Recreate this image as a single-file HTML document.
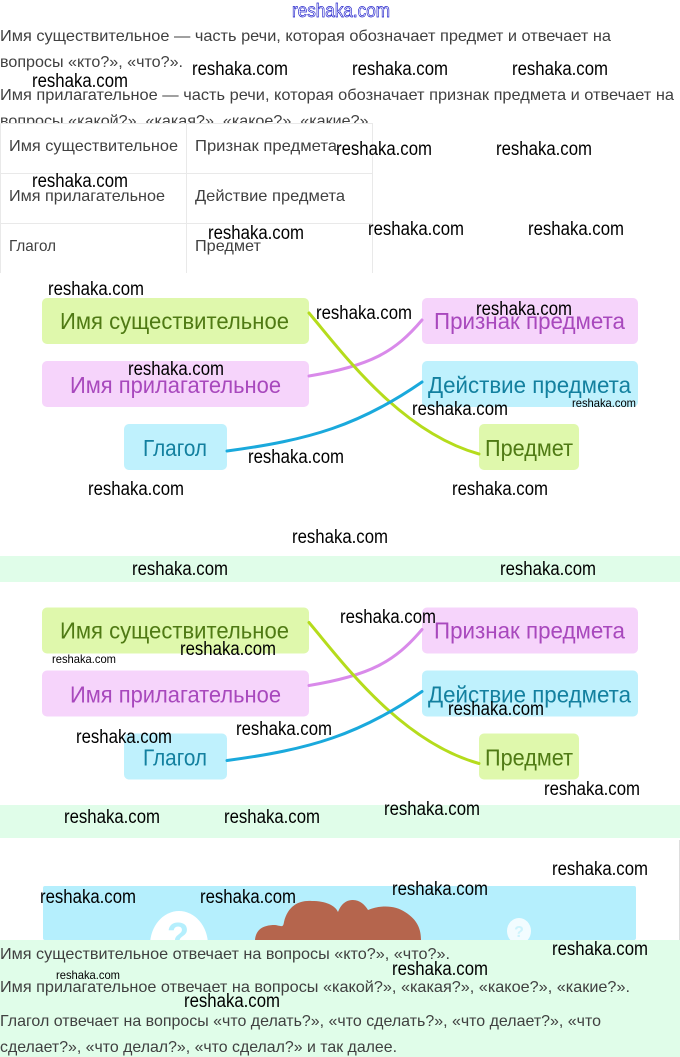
<!DOCTYPE html>
<html lang="ru"><head><meta charset="utf-8"><title>reshaka.com</title>
<style>
html,body{margin:0;padding:0;background:#fff;width:680px;height:1057px;overflow:hidden}
svg{display:block}
text{font-family:"Liberation Sans",sans-serif}
.t{font-size:16px;fill:#404040}
.w{font-size:19px;fill:#000}
.s{font-size:12px;fill:#000}
.d{font-size:23px}
.g{fill:#4f7a14}.p{fill:#a848bd}.b{fill:#13809f}
.cg{fill:#dff8ac}.cp{fill:#f6d4fb}.cb{fill:#bff1fd}
.l{fill:none;stroke-width:3;stroke-linecap:round}
</style></head><body>
<svg xmlns="http://www.w3.org/2000/svg" width="680" height="1057" viewBox="0 0 680 1057">
<rect width="680" height="1057" fill="#fff"/>
<text x="292" y="17" font-size="19" textLength="98" lengthAdjust="spacingAndGlyphs" style="fill:#fff;stroke:#2222cc;stroke-width:.7">reshaka.com</text>

<text class="t" x="0" y="41" textLength="611" lengthAdjust="spacingAndGlyphs">Имя существительное — часть речи, которая обозначает предмет и отвечает на</text>
<text class="t" x="0" y="67" textLength="183" lengthAdjust="spacingAndGlyphs">вопросы «кто?», «что?».</text>
<text class="t" x="0" y="100" textLength="674" lengthAdjust="spacingAndGlyphs">Имя прилагательное — часть речи, которая обозначает признак предмета и отвечает на</text>
<text class="t" x="0" y="126" textLength="373" lengthAdjust="spacingAndGlyphs">вопросы «какой?», «какая?», «какое?», «какие?».</text>
<rect x="0" y="123" width="680" height="10" fill="#fff"/>

<g stroke="#e9e9e9" stroke-width="1" fill="none">
<path d="M0.5 123.5H372.5V273M0.5 123.5V273M186.5 123.5V273M0 173.5H373M0 223.5H373"/>
</g>
<text class="t" x="9" y="151" textLength="169" lengthAdjust="spacingAndGlyphs">Имя существительное</text>
<text class="t" x="195" y="151" textLength="142" lengthAdjust="spacingAndGlyphs">Признак предмета</text>
<text class="t" x="9" y="201" textLength="156" lengthAdjust="spacingAndGlyphs">Имя прилагательное</text>
<text class="t" x="195" y="201" textLength="150" lengthAdjust="spacingAndGlyphs">Действие предмета</text>
<text class="t" x="9" y="251" textLength="47" lengthAdjust="spacingAndGlyphs">Глагол</text>
<text class="t" x="195" y="251" textLength="66" lengthAdjust="spacingAndGlyphs">Предмет</text>

<g id="d1">
<rect class="cg" x="42" y="298" width="267" height="46" rx="5"/>
<rect class="cp" x="42" y="361" width="267" height="46" rx="5"/>
<rect class="cb" x="124" y="424" width="103" height="46" rx="5"/>
<rect class="cp" x="422" y="298" width="216" height="46" rx="5"/>
<rect class="cb" x="422" y="361" width="216" height="46" rx="5"/>
<rect class="cg" x="479" y="424" width="100" height="46" rx="5"/>
<path class="l" stroke="#d98aea" d="M309 376C370 366 395 352 422 320"/>
<path class="l" stroke="#b5dc1c" d="M309 313C342 352 400 432 479 454"/>
<path class="l" stroke="#1aa9dc" d="M227 451C310 440 360 425 422 382"/>
<text class="d g" x="60" y="329" textLength="229" lengthAdjust="spacingAndGlyphs">Имя существительное</text>
<text class="d p" x="70" y="393" textLength="211" lengthAdjust="spacingAndGlyphs">Имя прилагательное</text>
<text class="d b" x="143" y="456" textLength="64" lengthAdjust="spacingAndGlyphs">Глагол</text>
<text class="d p" x="434" y="329" textLength="191" lengthAdjust="spacingAndGlyphs">Признак предмета</text>
<text class="d b" x="428" y="393" textLength="203" lengthAdjust="spacingAndGlyphs">Действие предмета</text>
<text class="d g" x="485" y="456" textLength="88" lengthAdjust="spacingAndGlyphs">Предмет</text>
</g>

<rect x="0" y="556" width="680" height="26" fill="#e0fde9"/>

<g transform="translate(0,309.5)">
<rect class="cg" x="42" y="298" width="267" height="46" rx="5"/>
<rect class="cp" x="42" y="361" width="267" height="46" rx="5"/>
<rect class="cb" x="124" y="424" width="103" height="46" rx="5"/>
<rect class="cp" x="422" y="298" width="216" height="46" rx="5"/>
<rect class="cb" x="422" y="361" width="216" height="46" rx="5"/>
<rect class="cg" x="479" y="424" width="100" height="46" rx="5"/>
<path class="l" stroke="#d98aea" d="M309 376C370 366 395 352 422 320"/>
<path class="l" stroke="#b5dc1c" d="M309 313C342 352 400 432 479 454"/>
<path class="l" stroke="#1aa9dc" d="M227 451C310 440 360 425 422 382"/>
<text class="d g" x="60" y="329" textLength="229" lengthAdjust="spacingAndGlyphs">Имя существительное</text>
<text class="d p" x="70" y="393" textLength="211" lengthAdjust="spacingAndGlyphs">Имя прилагательное</text>
<text class="d b" x="143" y="456" textLength="64" lengthAdjust="spacingAndGlyphs">Глагол</text>
<text class="d p" x="434" y="329" textLength="191" lengthAdjust="spacingAndGlyphs">Признак предмета</text>
<text class="d b" x="428" y="393" textLength="203" lengthAdjust="spacingAndGlyphs">Действие предмета</text>
<text class="d g" x="485" y="456" textLength="88" lengthAdjust="spacingAndGlyphs">Предмет</text>
</g>

<rect x="0" y="805" width="680" height="33" fill="#e0fde9"/>

<rect x="43" y="886" width="593" height="54" rx="2" fill="#b5effd"/>
<ellipse cx="179" cy="945" rx="29" ry="34" fill="#fff"/>
<text x="178" y="948" font-size="36" font-weight="bold" text-anchor="middle" style="fill:#b5effd">?</text>
<ellipse cx="519" cy="931" rx="12" ry="13" fill="#f2fcff"/>
<text x="519" y="937" font-size="16" font-weight="bold" text-anchor="middle" style="fill:#cdf3fc">?</text>
<path fill="#b5654d" d="M255 940C256 930 262 925 275 925C282 926 283 928 284 922C288 905 300 900 312 901C325 901 335 905 338 912C342 902 348 900 353 900C360 900 365 905 368 910C380 905 395 905 405 912C418 920 421 930 421 940Z"/>
<rect x="679" y="840" width="1" height="100" fill="#ddd"/>

<rect x="0" y="940" width="680" height="117" fill="#e0fde9"/>
<text class="t" x="0" y="959" textLength="450" lengthAdjust="spacingAndGlyphs">Имя существительное отвечает на вопросы «кто?», «что?».</text>
<text class="t" x="0" y="992" textLength="630" lengthAdjust="spacingAndGlyphs">Имя прилагательное отвечает на вопросы «какой?», «какая?», «какое?», «какие?».</text>
<text class="t" x="0" y="1026" textLength="601" lengthAdjust="spacingAndGlyphs">Глагол отвечает на вопросы «что делать?», «что сделать?», «что делает?», «что</text>
<text class="t" x="0" y="1052" textLength="397" lengthAdjust="spacingAndGlyphs">сделает?», «что делал?», «что сделал?» и так далее.</text>

<g>
<text class="w" x="192" y="75" textLength="96" lengthAdjust="spacingAndGlyphs">reshaka.com</text>
<text class="w" x="352" y="75" textLength="96" lengthAdjust="spacingAndGlyphs">reshaka.com</text>
<text class="w" x="512" y="75" textLength="96" lengthAdjust="spacingAndGlyphs">reshaka.com</text>
<text class="w" x="32" y="87" textLength="96" lengthAdjust="spacingAndGlyphs">reshaka.com</text>
<text class="w" x="336" y="155" textLength="96" lengthAdjust="spacingAndGlyphs">reshaka.com</text>
<text class="w" x="496" y="155" textLength="96" lengthAdjust="spacingAndGlyphs">reshaka.com</text>
<text class="w" x="32" y="187" textLength="96" lengthAdjust="spacingAndGlyphs">reshaka.com</text>
<text class="w" x="208" y="239" textLength="96" lengthAdjust="spacingAndGlyphs">reshaka.com</text>
<text class="w" x="368" y="235" textLength="96" lengthAdjust="spacingAndGlyphs">reshaka.com</text>
<text class="w" x="528" y="235" textLength="96" lengthAdjust="spacingAndGlyphs">reshaka.com</text>
<text class="w" x="48" y="295" textLength="96" lengthAdjust="spacingAndGlyphs">reshaka.com</text>
<text class="w" x="316" y="319" textLength="96" lengthAdjust="spacingAndGlyphs">reshaka.com</text>
<text class="w" x="476" y="315" textLength="96" lengthAdjust="spacingAndGlyphs">reshaka.com</text>
<text class="w" x="128" y="375" textLength="96" lengthAdjust="spacingAndGlyphs">reshaka.com</text>
<text class="w" x="412" y="415" textLength="96" lengthAdjust="spacingAndGlyphs">reshaka.com</text>
<text class="s" x="572" y="407" textLength="64" lengthAdjust="spacingAndGlyphs">reshaka.com</text>
<text class="w" x="248" y="463" textLength="96" lengthAdjust="spacingAndGlyphs">reshaka.com</text>
<text class="w" x="88" y="495" textLength="96" lengthAdjust="spacingAndGlyphs">reshaka.com</text>
<text class="w" x="452" y="495" textLength="96" lengthAdjust="spacingAndGlyphs">reshaka.com</text>
<text class="w" x="292" y="543" textLength="96" lengthAdjust="spacingAndGlyphs">reshaka.com</text>
<text class="w" x="132" y="575" textLength="96" lengthAdjust="spacingAndGlyphs">reshaka.com</text>
<text class="w" x="500" y="575" textLength="96" lengthAdjust="spacingAndGlyphs">reshaka.com</text>
<text class="w" x="340" y="623" textLength="96" lengthAdjust="spacingAndGlyphs">reshaka.com</text>
<text class="w" x="180" y="655" textLength="96" lengthAdjust="spacingAndGlyphs">reshaka.com</text>
<text class="s" x="52" y="663" textLength="64" lengthAdjust="spacingAndGlyphs">reshaka.com</text>
<text class="w" x="236" y="735" textLength="96" lengthAdjust="spacingAndGlyphs">reshaka.com</text>
<text class="w" x="76" y="743" textLength="96" lengthAdjust="spacingAndGlyphs">reshaka.com</text>
<text class="w" x="448" y="715" textLength="96" lengthAdjust="spacingAndGlyphs">reshaka.com</text>
<text class="w" x="544" y="795" textLength="96" lengthAdjust="spacingAndGlyphs">reshaka.com</text>
<text class="w" x="64" y="823" textLength="96" lengthAdjust="spacingAndGlyphs">reshaka.com</text>
<text class="w" x="224" y="823" textLength="96" lengthAdjust="spacingAndGlyphs">reshaka.com</text>
<text class="w" x="384" y="815" textLength="96" lengthAdjust="spacingAndGlyphs">reshaka.com</text>
<text class="w" x="552" y="875" textLength="96" lengthAdjust="spacingAndGlyphs">reshaka.com</text>
<text class="w" x="40" y="903" textLength="96" lengthAdjust="spacingAndGlyphs">reshaka.com</text>
<text class="w" x="200" y="903" textLength="96" lengthAdjust="spacingAndGlyphs">reshaka.com</text>
<text class="w" x="392" y="895" textLength="96" lengthAdjust="spacingAndGlyphs">reshaka.com</text>
<text class="w" x="552" y="955" textLength="96" lengthAdjust="spacingAndGlyphs">reshaka.com</text>
<text class="w" x="392" y="975" textLength="96" lengthAdjust="spacingAndGlyphs">reshaka.com</text>
<text class="s" x="56" y="979" textLength="64" lengthAdjust="spacingAndGlyphs">reshaka.com</text>
<text class="w" x="184" y="1007" textLength="96" lengthAdjust="spacingAndGlyphs">reshaka.com</text>
</g>
</svg>
</body></html>
